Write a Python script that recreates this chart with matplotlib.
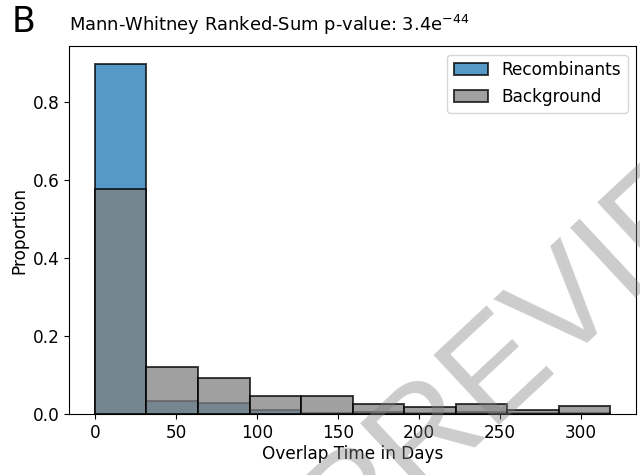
import numpy as np
import matplotlib
matplotlib.use("Agg")
import matplotlib.pyplot as plt

# Data (proportions per bin)
bin_edges = np.linspace(0, 318, 11)
recombinants = [0.897, 0.034, 0.028, 0.010, 0.004, 0.006, 0.004, 0.006, 0.004, 0.004]
background = [0.575, 0.121, 0.093, 0.047, 0.047, 0.025, 0.019, 0.025, 0.012, 0.020]
labels = ["Recombinants", "Background"]
title_text = "Mann-Whitney Ranked-Sum p-value: 3.4e$^{-44}$"

fig = plt.figure(figsize=(6.4, 4.75), dpi=100)
ax = fig.add_axes([0.108, 0.128, 0.886, 0.775])

lefts = bin_edges[:-1]
widths = np.diff(bin_edges)
ax.bar(lefts, recombinants, width=widths, align="edge", color="#1f77b4", alpha=0.75,
       edgecolor="black", linewidth=1.4, label=labels[0])
ax.bar(lefts, background, width=widths, align="edge", color="gray", alpha=0.75,
       edgecolor="black", linewidth=1.4, label=labels[1])

fs = 12.2
ax.set_xlim(-15.9, 333.9)
ax.set_ylim(0, 0.942)
ax.set_xticks([0, 50, 100, 150, 200, 250, 300])
ax.set_yticks([0.0, 0.2, 0.4, 0.6, 0.8])
ax.tick_params(labelsize=fs)
ax.set_xlabel("Overlap Time in Days", fontsize=fs, labelpad=2)
ax.set_ylabel("Proportion", fontsize=fs, labelpad=3)
ax.legend(loc="upper right", fontsize=fs)

fig.text(0.018, 0.954, "B", fontsize=25, ha="left", va="center")
fig.text(0.108, 0.947, title_text, fontsize=12.9, ha="left", va="center")

# watermark
fig.text(0.87, 0.345, "PREVIEW", fontsize=100, color="gray", alpha=0.4,
         family="Liberation Sans", rotation=43, ha="center", va="center",
         rotation_mode="anchor", zorder=10)

fig.savefig("out.png", dpi=100)
